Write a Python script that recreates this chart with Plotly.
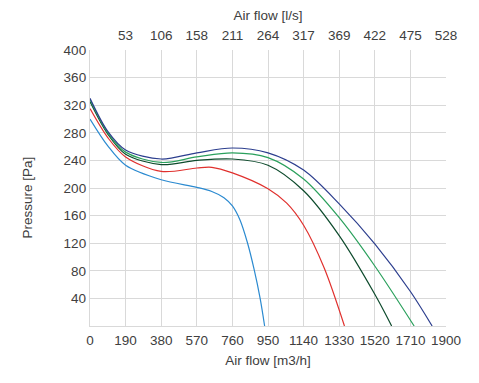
import plotly.graph_objects as go

# Axis ticks
flow_ticks = [0, 190, 380, 570, 760, 950, 1140, 1330, 1520, 1710, 1900]
ls_tick_vals = [190, 380, 570, 760, 950, 1140, 1330, 1520, 1710, 1900]
ls_tick_labels = ["53", "106", "158", "211", "264", "317", "369", "422", "475", "528"]
pressure_ticks = [40, 80, 120, 160, 200, 240, 280, 320, 360, 400]

# Fan curves (airflow m3/h, pressure Pa)
blue_x = [0, 95, 190, 380, 570, 650, 715, 760, 800, 840, 875, 908, 932]
blue_y = [300, 261, 233, 212, 201, 195, 186, 174, 154, 121, 83, 40, 0]

red_x = [0, 95, 190, 380, 570, 650, 760, 950, 1050, 1140, 1250, 1358]
red_y = [315, 273, 245, 224, 229, 230, 222, 199, 178, 146, 84, 0]

dkgreen_x = [0, 95, 190, 380, 570, 760, 950, 1140, 1330, 1520, 1610]
dkgreen_y = [325, 278, 249, 234, 240, 242, 233, 196, 131, 46, 0]

green_x = [0, 95, 190, 380, 570, 760, 950, 1140, 1330, 1520, 1730]
green_y = [328, 280, 252, 237, 245, 251, 244, 213, 157, 87, 0]

navy_x = [0, 95, 190, 380, 570, 760, 950, 1140, 1330, 1520, 1710, 1826]
navy_y = [330, 282, 255, 242, 251, 258, 251, 226, 177, 119, 50, 0]

series = [
    (blue_x, blue_y, "#2b8ad0"),
    (red_x, red_y, "#e0302d"),
    (dkgreen_x, dkgreen_y, "#0d4a2c"),
    (green_x, green_y, "#2aa05c"),
    (navy_x, navy_y, "#2c3e8e"),
]

fig = go.Figure()
for xs, ys, col in series:
    fig.add_trace(go.Scatter(x=xs, y=ys, mode="lines",
                             line=dict(color=col, width=1.2, shape="spline", smoothing=0.9),
                             showlegend=False, hoverinfo="skip"))

# invisible trace for top axis
fig.add_trace(go.Scatter(x=[0, 1900], y=[0, 0], xaxis="x2", mode="markers",
                         marker=dict(opacity=0), showlegend=False, hoverinfo="skip"))

font = dict(family="Liberation Sans, Arial, sans-serif", size=13.5, color="#404040")
title_font = dict(family="Liberation Sans, Arial, sans-serif", size=13.5, color="#404040")
grid = "#d9d9d9"

# page body has an 8px default margin, so margins are offset accordingly
fig.update_layout(
    width=479, height=383,
    margin=dict(l=82, r=41, t=42, b=65),
    paper_bgcolor="white", plot_bgcolor="white",
    font=font,
    xaxis=dict(range=[0, 1900], tickvals=flow_ticks, ticktext=[str(v) for v in flow_ticks],
               showgrid=True, gridcolor=grid, gridwidth=1.3, zeroline=False,
               showline=True, linecolor=grid, linewidth=1.3, ticks="", automargin=False,
               ticklabelstandoff=2,
               title=dict(text="Air flow [m3/h]", standoff=8, font=title_font)),
    xaxis2=dict(range=[0, 1900], overlaying="x", side="top", tickvals=ls_tick_vals,
                ticktext=ls_tick_labels, showgrid=False, zeroline=False, ticks="",
                showline=False, automargin=False, ticklabelstandoff=6,
                title=dict(text="Air flow [l/s]", standoff=6, font=title_font)),
    yaxis=dict(range=[0, 400], tickvals=pressure_ticks, showgrid=True, gridcolor=grid,
               gridwidth=1.3, zeroline=False, showline=True, linecolor=grid, linewidth=1.3,
               ticks="", automargin=False),
    annotations=[dict(text="Pressure [Pa]", textangle=-90, xref="paper", yref="paper",
                      x=0, y=0.5, xshift=-63.5, yshift=-10, showarrow=False,
                      xanchor="center", yanchor="middle", font=title_font)],
)

fig.write_html("out.html")
